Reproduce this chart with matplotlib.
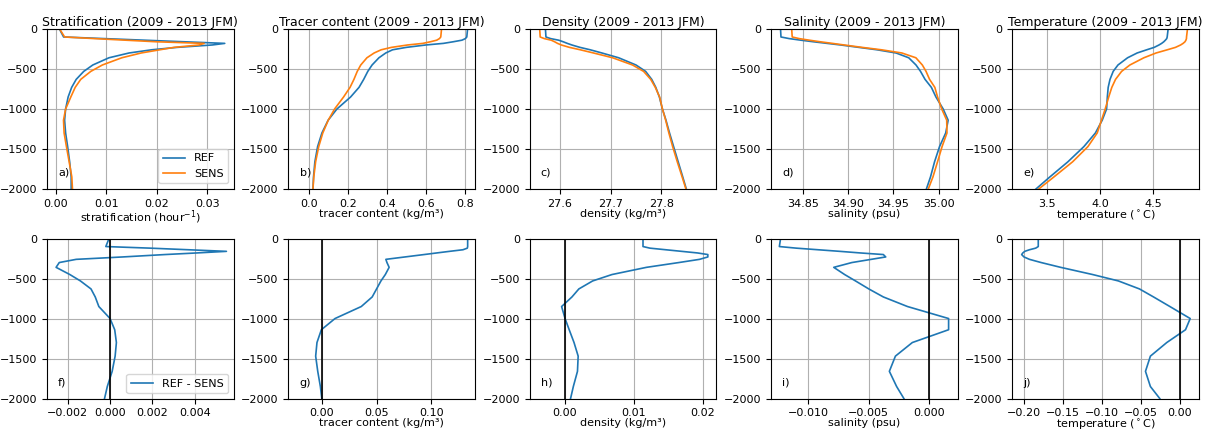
import numpy as np
import matplotlib
matplotlib.use("Agg")
import matplotlib.pyplot as plt

# model levels (m)
depth = np.array([0, 100, 120, 140, 160, 180, 200, 230, 260, 300, 360, 450,
                  530, 630, 730, 850, 1000, 1140, 1300, 1470, 1660, 1850, 2000])

# REF profiles
ref_strat = [0.00066, 0.0015, 0.0095, 0.0175, 0.0255, 0.0335, 0.031, 0.024, 0.019,
             0.0145, 0.0105, 0.0073, 0.0055, 0.0040, 0.0031, 0.0024, 0.0019, 0.0017,
             0.0019, 0.0023, 0.0027, 0.0030, 0.0030]
ref_tracer = [0.814, 0.810, 0.803, 0.785, 0.74, 0.69, 0.60, 0.50, 0.43, 0.395, 0.36,
              0.325, 0.303, 0.282, 0.258, 0.215, 0.145, 0.10, 0.068, 0.046, 0.032,
              0.025, 0.022]
ref_dens = [27.572, 27.573, 27.582, 27.598, 27.607, 27.615, 27.624, 27.640, 27.660,
            27.683, 27.716, 27.750, 27.769, 27.781, 27.789, 27.796, 27.802, 27.809,
            27.816, 27.824, 27.833, 27.842, 27.849]
ref_sal = [34.8255, 34.826, 34.835, 34.848, 34.862, 34.877, 34.892, 34.912, 34.932,
           34.953, 34.967, 34.975, 34.980, 34.985, 34.992, 34.997, 35.005, 35.0105,
           35.0078, 35.001, 34.9955, 34.991, 34.9865]
ref_temp = [4.641, 4.632, 4.628, 4.615, 4.600, 4.580, 4.555, 4.510, 4.440, 4.350,
            4.260, 4.170, 4.125, 4.095, 4.078, 4.070, 4.063, 4.022, 3.958, 3.850,
            3.700, 3.530, 3.400]

# REF - SENS
diff_strat = [-0.00005, -0.0002, 0.0019, 0.0037, 0.0055, 0.0041, 0.0026, 0.0006,
              -0.0016, -0.0024, -0.00255, -0.0019, -0.0014, -0.0009, -0.0007,
              -0.00053, 0.0, 0.00022, 0.0003, 0.00024, 0.0001, -0.00013, -0.00026]
diff_tracer = [0.1333, 0.1333, 0.1330, 0.129, 0.1167, 0.105, 0.0935, 0.076, 0.0585,
               0.0595, 0.0615, 0.058, 0.054, 0.050, 0.046, 0.036, 0.012, -0.0005,
               -0.0045, -0.0057, -0.0038, -0.0014, -0.0001]
diff_dens = [0.0113, 0.0113, 0.0123, 0.0146, 0.0169, 0.0192, 0.0207, 0.0207, 0.0195,
             0.0165, 0.0118, 0.0068, 0.0040, 0.0020, 0.0010, -0.0005, 0.0, 0.0006,
             0.0013, 0.0019, 0.0018, 0.0012, 0.0008]
diff_sal = [-0.0123, -0.0124, -0.0110, -0.0092, -0.0074, -0.0057, -0.0038, -0.0036,
            -0.0048, -0.0064, -0.0079, -0.0070, -0.0061, -0.0050, -0.0038, -0.0018,
            0.0016, 0.0016, -0.0014, -0.0028, -0.0033, -0.0027, -0.0021]
diff_temp = [-0.1817, -0.1817, -0.185, -0.193, -0.199, -0.2015, -0.203, -0.200,
             -0.193, -0.178, -0.153, -0.112, -0.079, -0.052, -0.034, -0.013, 0.013,
             0.007, -0.017, -0.038, -0.0443, -0.038, -0.026]

names = ["Stratification", "Tracer content", "Density", "Salinity", "Temperature"]
xlabels = ["stratification (hour$^{-1}$)", "tracer content (kg/m\u00b3)",
           "density (kg/m\u00b3)", "salinity (psu)", "temperature ($^\\circ$C)"]
refs = [ref_strat, ref_tracer, ref_dens, ref_sal, ref_temp]
diffs = [diff_strat, diff_tracer, diff_dens, diff_sal, diff_temp]
letters_top = ["a)", "b)", "c)", "d)", "e)"]
letters_bot = ["f)", "g)", "h)", "i)", "j)"]

xlim_top = [(-0.0018, 0.03526), (-0.104, 0.852), (27.541, 27.908),
            (34.815, 35.021), (3.178, 4.931)]
xlim_bot = [(-0.00298, 0.00584), (-0.0307, 0.140), (-0.00513, 0.02193),
            (-0.01309, 0.00235), (-0.2149, 0.0243)]
xticks_top = [[0.0, 0.01, 0.02, 0.03], [0.0, 0.2, 0.4, 0.6, 0.8],
              [27.6, 27.7, 27.8], [34.85, 34.90, 34.95, 35.00], [3.5, 4.0, 4.5]]
xticks_bot = [[-0.002, 0.0, 0.002, 0.004], [0.0, 0.05, 0.10], [0.0, 0.01, 0.02],
              [-0.010, -0.005, 0.0], [-0.20, -0.15, -0.10, -0.05, 0.0]]
xfmt_top = ["%.2f", "%.1f", "%.1f", "%.2f", "%.1f"]
xfmt_bot = ["%.3f", "%.2f", "%.2f", "%.3f", "%.2f"]

plt.rcParams["font.size"] = 8
plt.rcParams["lines.linewidth"] = 1.2

fig, axes = plt.subplots(2, 5, figsize=(12.11, 4.32), dpi=100)
fig.subplots_adjust(left=0.0388, right=0.9901, top=0.9329, bottom=0.0775,
                    wspace=0.293, hspace=0.31)

z = -depth
for i in range(5):
    ref = np.array(refs[i])
    diff = np.array(diffs[i])
    sens = ref - diff

    ax = axes[0, i]
    ax.plot(ref, z, color="tab:blue", label="REF")
    ax.plot(sens, z, color="tab:orange", label="SENS")
    ax.set_ylim(-2000, 0)
    ax.set_xlim(*xlim_top[i])
    ax.set_xticks(xticks_top[i])
    ax.set_xticklabels([xfmt_top[i] % v for v in xticks_top[i]])
    ax.set_yticks([0, -500, -1000, -1500, -2000])
    ax.grid(True)
    ax.set_title(names[i] + " (2009 - 2013 JFM)", fontsize=9, pad=2)
    ax.set_xlabel(xlabels[i], labelpad=0)
    ax.text(0.06, 0.1, letters_top[i], transform=ax.transAxes, va="center")
    if i == 0:
        ax.legend(loc="lower right")

    ax = axes[1, i]
    ax.plot(diff, z, color="tab:blue", label="REF - SENS")
    ax.axvline(0, color="black", lw=1.2)
    ax.set_ylim(-2000, 0)
    ax.set_xlim(*xlim_bot[i])
    ax.set_xticks(xticks_bot[i])
    ax.set_xticklabels([(xfmt_bot[i] % v).replace("-", "\u2212") for v in xticks_bot[i]])
    ax.set_yticks([0, -500, -1000, -1500, -2000])
    ax.grid(True)
    if i > 0:
        ax.set_xlabel(xlabels[i], labelpad=0)
    ax.text(0.06, 0.1, letters_bot[i], transform=ax.transAxes, va="center")
    if i == 0:
        ax.legend(loc="lower right")

fig.savefig("out.png", dpi=100)
